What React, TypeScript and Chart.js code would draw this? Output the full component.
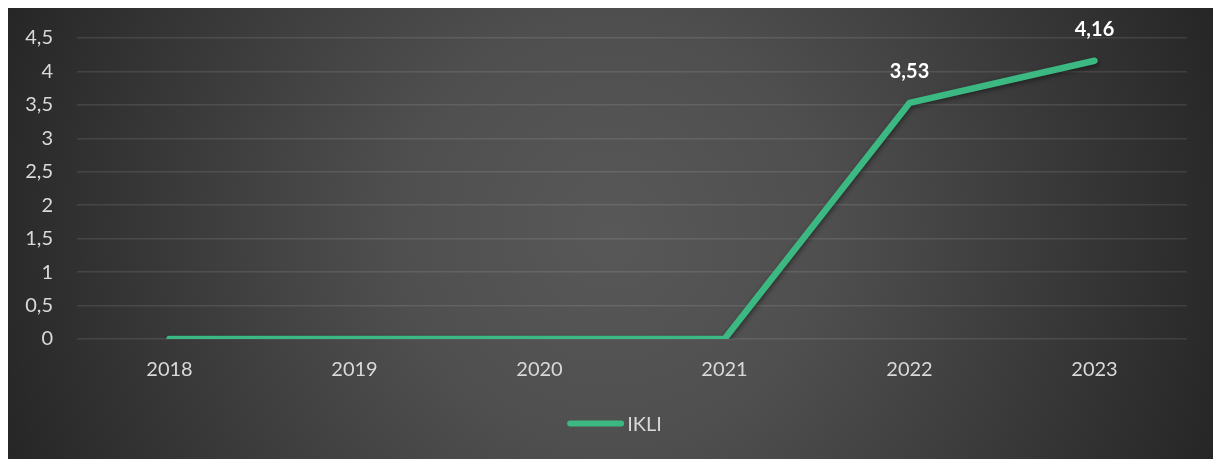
import { useEffect, useRef } from "react";
import { Chart, registerables } from "chart.js";

Chart.register(...registerables);

const categories = ["2018", "2019", "2020", "2021", "2022", "2023"];
const ikliValues = [0, 0, 0, 0, 3.53, 4.16];
const labelledIndices = [4, 5];
const seriesName = "IKLI";
const yMin = 0;
const yMax = 4.5;
const yStep = 0.5;

const LINE_COLOR = "#3cb882";
const TEXT_COLOR = "#d9d9d9";
const FONT_FAMILY = "Lato, 'Open Sans', sans-serif";

const fmt = (v: number) => String(v).replace(".", ",");

const W = 1205;
const H = 451;

export default function App() {
  const ref = useRef<HTMLCanvasElement | null>(null);

  useEffect(() => {
    if (!ref.current) return;

    const shadowPlugin = {
      id: "lineShadow",
      beforeDatasetDraw(chart: any) {
        const ctx = chart.ctx;
        ctx.save();
        ctx.shadowColor = "rgba(0,0,0,0.45)";
        ctx.shadowBlur = 5;
        ctx.shadowOffsetX = 1;
        ctx.shadowOffsetY = 2;
      },
      afterDatasetDraw(chart: any) {
        chart.ctx.restore();
      },
    };

    const dataLabelPlugin = {
      id: "dataLabels",
      afterDatasetsDraw(chart: any) {
        const ctx = chart.ctx;
        const meta = chart.getDatasetMeta(0);
        ctx.save();
        ctx.font = `bold 20px ${FONT_FAMILY}`;
        ctx.fillStyle = "#ffffff";
        ctx.textAlign = "center";
        ctx.textBaseline = "middle";
        labelledIndices.forEach((i) => {
          const p = meta.data[i];
          ctx.fillText(fmt(ikliValues[i]), p.x, p.y - 31);
        });
        ctx.restore();
      },
    };

    const legendPlugin = {
      id: "customLegend",
      afterDraw(chart: any) {
        const ctx = chart.ctx;
        ctx.save();
        ctx.font = `20px ${FONT_FAMILY}`;
        const tw = ctx.measureText(seriesName).width;
        const lineLen = 57;
        const gap = 3;
        const total = lineLen + gap + tw;
        const x0 = chart.width / 2 - total / 2 + 4;
        const y = 415.5;
        ctx.strokeStyle = LINE_COLOR;
        ctx.lineWidth = 6;
        ctx.lineCap = "round";
        ctx.beginPath();
        ctx.moveTo(x0 + 3, y);
        ctx.lineTo(x0 + lineLen - 3, y);
        ctx.stroke();
        ctx.fillStyle = TEXT_COLOR;
        ctx.textAlign = "left";
        ctx.textBaseline = "middle";
        ctx.fillText(seriesName, x0 + lineLen + gap, y + 1);
        ctx.restore();
      },
    };

    const chart = new Chart(ref.current, {
      type: "line",
      data: {
        labels: categories,
        datasets: [
          {
            label: seriesName,
            data: ikliValues,
            borderColor: LINE_COLOR,
            backgroundColor: LINE_COLOR,
            borderWidth: 6.5,
            borderCapStyle: "round",
            borderJoinStyle: "round",
            pointRadius: 0,
            pointHoverRadius: 0,
            tension: 0,
            fill: false,
          },
        ],
      },
      options: {
        responsive: false,
        animation: false,
        devicePixelRatio: 1,
        layout: { autoPadding: false, padding: { top: 30, right: 26, bottom: 0, left: 0 } },
        plugins: {
          legend: { display: false },
          tooltip: { enabled: false },
          title: { display: false },
        },
        scales: {
          x: {
            type: "category",
            offset: true,
            grid: { display: false, drawTicks: false },
            border: { display: false },
            ticks: {
              color: TEXT_COLOR,
              font: { family: FONT_FAMILY, size: 20 },
              padding: 19,
              maxRotation: 0,
            },
            afterFit: (s: any) => {
              s.height = 120;
              s.paddingLeft = 0;
              s.paddingRight = 0;
              s.paddingTop = 0;
              s.paddingBottom = 0;
            },
          },
          y: {
            min: yMin,
            max: yMax,
            grid: {
              color: "rgba(255,255,255,0.1)",
              lineWidth: 1.5,
              drawTicks: false,
            },
            border: { display: false },
            ticks: {
              stepSize: yStep,
              color: TEXT_COLOR,
              font: { family: FONT_FAMILY, size: 20 },
              padding: 24,
              callback: (v: any) => fmt(Number(v)),
            },
            afterFit: (s: any) => {
              s.width = 69;
              s.paddingTop = 0;
              s.paddingBottom = 0;
              s.paddingLeft = 0;
              s.paddingRight = 0;
            },
          },
        },
      } as any,
      plugins: [shadowPlugin, dataLabelPlugin, legendPlugin],
    });

    return () => chart.destroy();
  }, []);

  return (
    <div
      style={{
        position: "fixed",
        left: 8,
        top: 8,
        width: W + 20,
        height: H + 20,
        background:
          "radial-gradient(circle 640px at 602px 225px, #585858 0%, #4f4f4f 33%, #454545 50%, #2a2a2a 94%, #262626 100%)",
      }}
    >
      <canvas ref={ref} width={W} height={H} style={{ display: "block", width: W, height: H }} />
    </div>
  );
}
